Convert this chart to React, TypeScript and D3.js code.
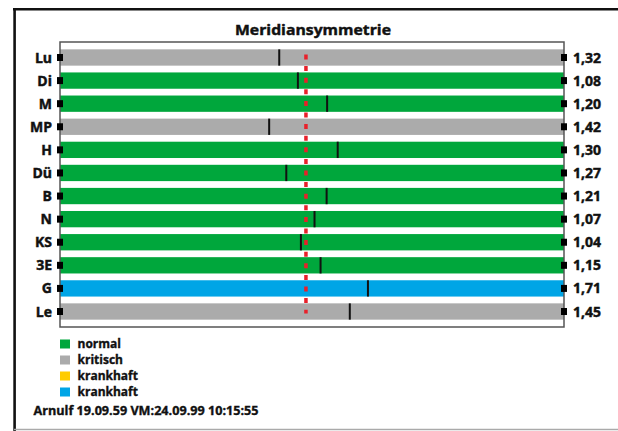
import React from "react";
import * as d3 from "d3";

const categories = ["Lu", "Di", "M", "MP", "H", "Dü", "B", "N", "KS", "3E", "G", "Le"];
const ratioLabels = ["1,32", "1,08", "1,20", "1,42", "1,30", "1,27", "1,21", "1,07", "1,04", "1,15", "1,71", "1,45"];
const statuses = ["kritisch", "normal", "normal", "kritisch", "normal", "normal", "normal", "normal", "normal", "normal", "krankhaft2", "kritisch"];
// marker positions on a 0..100 balance scale (left meridian side .. right side)
const markerPositions = [43.5, 47.2, 53.0, 41.5, 55.1, 44.9, 52.9, 50.5, 47.8, 51.7, 61.1, 57.5];
const referencePosition = 48.8;
const legendKeys = ["normal", "kritisch", "krankhaft1", "krankhaft2"];
const legendLabels = ["normal", "kritisch", "krankhaft", "krankhaft"];
const title = "Meridiansymmetrie";
const footer = "Arnulf 19.09.59 VM:24.09.99 10:15:55";

const W = 618;
const H = 431;
const plot = { left: 60, right: 564, top: 42, bottom: 327 };
const FONT = "'Open Sans', 'Noto Sans', sans-serif";

const color = d3
  .scaleOrdinal<string, string>()
  .domain(legendKeys)
  .range(["#00a73c", "#ababab", "#ffcc00", "#00a5e6"]);

const heavy = { fontWeight: 700, fill: "#111", stroke: "#111", strokeWidth: 0.45 } as const;

export default function App() {
  const x = d3.scaleLinear().domain([0, 100]).range([plot.left, plot.right]);
  const y = d3
    .scaleBand<string>()
    .domain(categories)
    .range([plot.top, plot.bottom])
    .paddingInner(0.294)
    .paddingOuter(0.318);
  const bh = y.bandwidth();
  const legendY = d3.scalePoint<string>().domain(legendKeys).range([344, 392]);

  const firstC = (y(categories[0]) as number) + bh / 2;
  const lastC = (y(categories[categories.length - 1]) as number) + bh / 2;

  return (
    <svg
      width={W}
      height={H}
      viewBox={`0 0 ${W} ${H}`}
      style={{ position: "absolute", left: 0, top: 0, background: "#fff" }}
      fontFamily={FONT}
    >
      <rect x={0} y={0} width={W} height={H} fill="#fff" />
      {/* outer frame */}
      <line x1={13} x2={W} y1={9.3} y2={9.3} stroke="#111" strokeWidth={2.6} />
      <line x1={14.6} x2={14.6} y1={8} y2={H} stroke="#111" strokeWidth={2.6} />
      <line x1={14} x2={W} y1={429.5} y2={429.5} stroke="#aaa" strokeWidth={1.5} />

      <text
        x={313}
        y={34.5}
        textAnchor="middle"
        fontSize={15}
        {...heavy}
        textLength={156}
        lengthAdjust="spacingAndGlyphs"
      >
        {title}
      </text>

      {/* bars */}
      {categories.map((c, i) => (
        <rect
          key={"b" + c}
          x={plot.left}
          y={y(c)}
          width={plot.right - plot.left}
          height={bh}
          fill={color(statuses[i])}
        />
      ))}

      {/* plot frame */}
      <rect
        x={plot.left}
        y={plot.top}
        width={plot.right - plot.left}
        height={plot.bottom - plot.top}
        fill="none"
        stroke="#555"
        strokeWidth={1.5}
      />

      {/* reference line */}
      <line
        x1={x(referencePosition)}
        x2={x(referencePosition)}
        y1={firstC - 3}
        y2={lastC + 2}
        stroke="#e8202a"
        strokeWidth={3.5}
        strokeDasharray="5 6.6"
      />

      {/* markers */}
      {categories.map((c, i) => (
        <rect
          key={"m" + c}
          x={x(markerPositions[i]) - 1}
          y={y(c)}
          width={2}
          height={bh}
          fill="#111"
        />
      ))}

      {/* axis squares and labels */}
      {categories.map((c, i) => {
        const cy = (y(c) as number) + bh / 2;
        return (
          <g key={"a" + c}>
            <rect x={plot.left - 3} y={cy - 3.5} width={6} height={7} fill="#000" />
            <rect x={plot.right - 3} y={cy - 3.5} width={6} height={7} fill="#000" />
            <text x={52} y={cy} dy="0.36em" textAnchor="end" fontSize={14} {...heavy}>
              {c}
            </text>
            <text x={573} y={cy} dy="0.36em" textAnchor="start" fontSize={14} {...heavy}>
              {ratioLabels[i]}
            </text>
          </g>
        );
      })}

      {/* legend */}
      {legendKeys.map((k, i) => {
        const cy = legendY(k) as number;
        return (
          <g key={"l" + k}>
            <rect x={60} y={cy - 4.5} width={10} height={9} fill={color(k)} />
            <text x={77.5} y={cy} dy="0.36em" fontSize={12} {...heavy} strokeWidth={0.35}>
              {legendLabels[i]}
            </text>
          </g>
        );
      })}

      <text
        x={33.5}
        y={415}
        fontSize={12}
        {...heavy}
        strokeWidth={0.35}
        textLength={225}
        lengthAdjust="spacingAndGlyphs"
      >
        {footer}
      </text>
    </svg>
  );
}
